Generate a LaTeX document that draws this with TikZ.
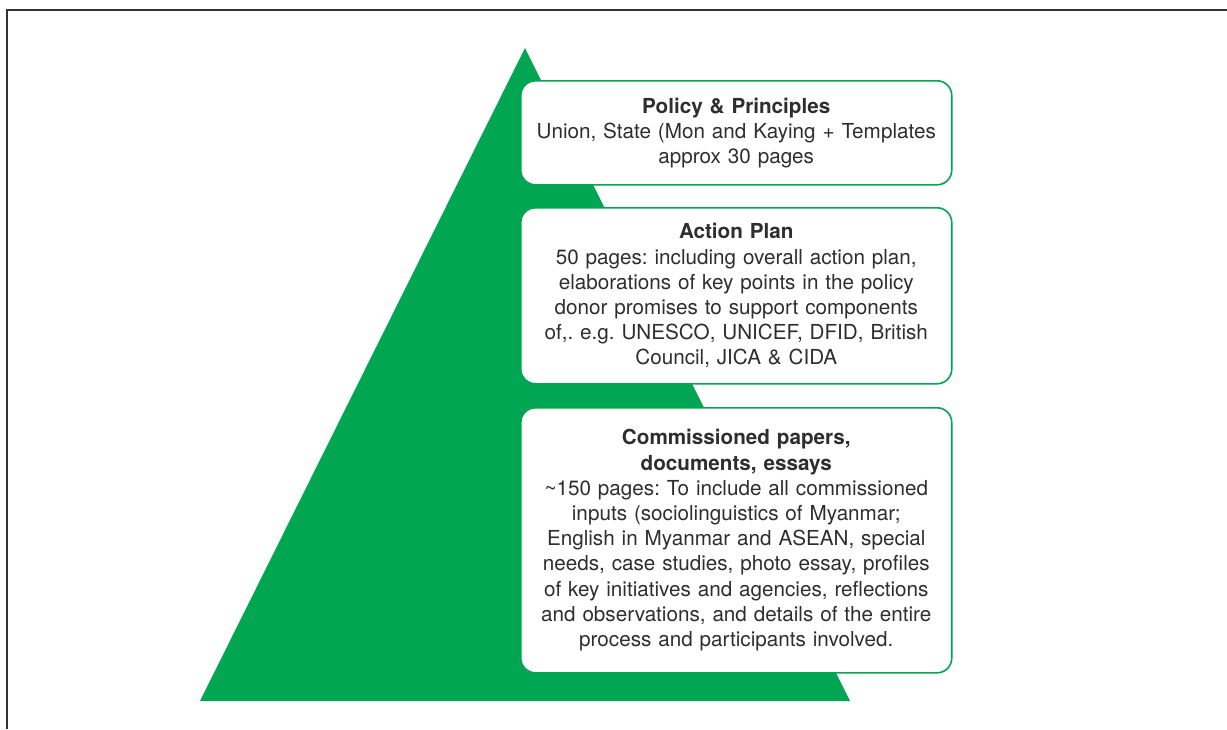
\documentclass[tikz,border=0pt]{standalone}
\usepackage{fontspec}
\setmainfont{TeX Gyre Heros}
\frenchspacing
\definecolor{pyrgreen}{HTML}{00A651}
\definecolor{txtgray}{HTML}{2E2E2E}
\tikzset{
  levelbox/.style={draw=pyrgreen, line width=1.2pt, fill=white, rounded corners=11pt,
    anchor=north west, align=center, text width=306pt, inner xsep=8.6pt, inner ysep=0pt,
    text=txtgray, font=\fontsize{15.5}{18.9}\selectfont},
}
\begin{document}
\begin{tikzpicture}[x=0.75pt, y=-0.75pt]
\useasboundingbox (0,0) rectangle (1227,729);

% Frame round the figure
\draw[line width=1.6pt, black!80] (7,729) -- (7,10) -- (1227,10);

% The pyramid
\fill[pyrgreen] (525,48) -- (200,701) -- (850,701) -- cycle;

% The three levels
\node[levelbox, minimum height=78pt] (policy) at (520,80)
  {\textbf{Policy \& Principles}\\
   Union, State (Mon and Kaying + Templates\\
   approx 30 pages};
\node[levelbox, minimum height=132pt] (action) at (520,207)
  {\textbf{Action Plan}\\
   50 pages: including overall action plan,\\
   elaborations of key points in the policy\\
   donor promises to support components\\
   of,. e.g. UNESCO, UNICEF, DFID, British\\
   Council, JICA \& CIDA};
\node[levelbox, minimum height=198.75pt] (papers) at (520,407)
  {\textbf{Commissioned papers,}\\
   \textbf{documents, essays}\\
   \textasciitilde150 pages: To include all commissioned\\
   inputs (sociolinguistics of Myanmar;\\
   English in Myanmar and ASEAN, special\\
   needs, case studies, photo essay, profiles\\
   of key initiatives and agencies, reflections\\
   and observations, and details of the entire\\
   process and participants involved.};
\end{tikzpicture}
\end{document}
